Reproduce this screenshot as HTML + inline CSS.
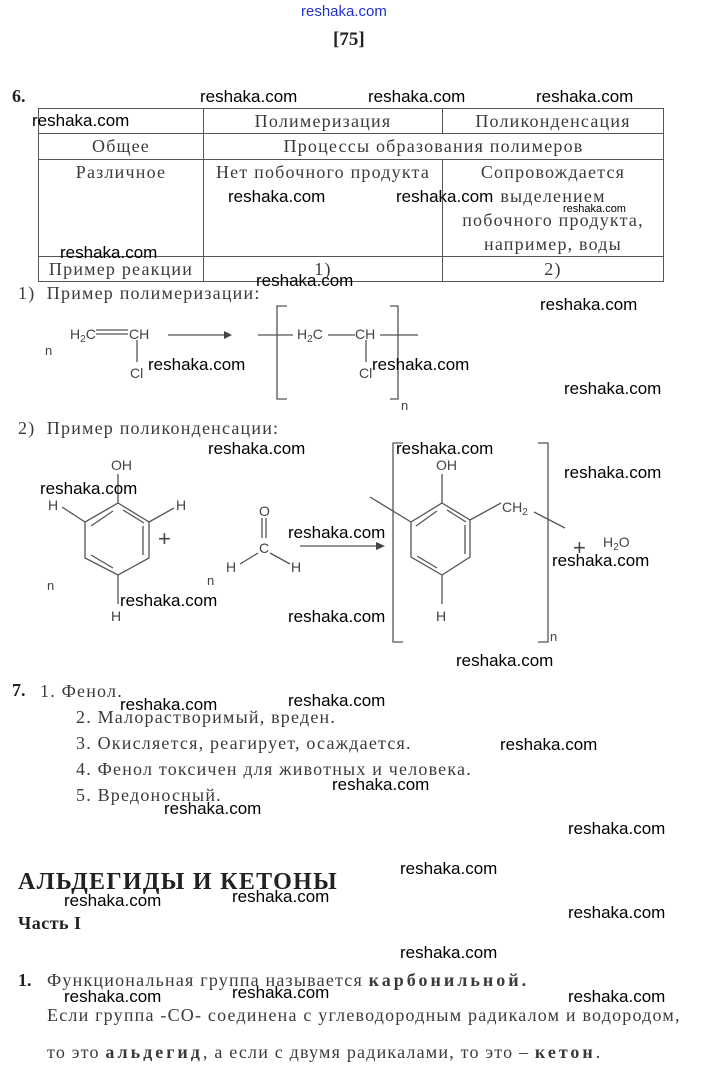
<!DOCTYPE html>
<html><head><meta charset="utf-8"><style>
body{margin:0;width:701px;height:1071px;background:#fff;position:relative;overflow:hidden;font-family:"Liberation Serif",serif;color:#3a3a3a}
.t{position:absolute;font-size:18px;letter-spacing:1.2px;white-space:nowrap;line-height:20px}
.w{position:absolute;font-family:"Liberation Sans",sans-serif;font-size:17px;letter-spacing:0;color:#000;white-space:nowrap;line-height:20px}
.b{font-weight:bold;color:#222}
table{position:absolute;left:38px;top:108px;border-collapse:collapse;font-size:18px;letter-spacing:1.2px}
td{border:1px solid #555;text-align:center;padding:0;line-height:24px;vertical-align:top;white-space:nowrap}
svg{position:absolute;left:0;top:0}
.sp{letter-spacing:3px;font-weight:bold}
</style></head><body>
<div class="w" style="left:301px;top:2px;font-size:15px;color:#2233cc">reshaka.com</div>
<div class="t b" style="left:333px;top:30px;font-size:19px;letter-spacing:0">[75]</div>
<div class="t b" style="left:12px;top:86px;letter-spacing:0">6.</div>
<table>
<tr style="height:23px"><td style="width:164px"></td><td style="width:238px">Полимеризация</td><td style="width:220px">Поликонденсация</td></tr>
<tr style="height:26px"><td>Общее</td><td colspan="2">Процессы образования полимеров</td></tr>
<tr style="height:97px"><td>Различное</td><td>Нет побочного продукта</td><td>Сопровождается<br>выделением<br>побочного продукта,<br>например, воды</td></tr>
<tr style="height:25px"><td>Пример реакции</td><td>1)</td><td>2)</td></tr>
</table>
<div class="t" style="left:18px;top:283px">1)&nbsp; Пример полимеризации:</div>
<div class="t" style="left:18px;top:418px">2)&nbsp; Пример поликонденсации:</div>
<svg width="701" height="1071" font-family="Liberation Sans,sans-serif" font-size="14" fill="#444">
<g stroke="#555" stroke-width="1.3" fill="none">
<line x1="96" y1="330" x2="128" y2="330"/><line x1="96" y1="334" x2="128" y2="334"/>
<line x1="137" y1="340" x2="137" y2="362"/>
<line x1="168" y1="335" x2="224" y2="335"/>
<line x1="258" y1="335" x2="293" y2="335"/>
<polyline points="287,306 277,306 277,399 287,399"/>
<line x1="328" y1="335" x2="355" y2="335"/><line x1="380" y1="335" x2="418" y2="335"/>
<line x1="366" y1="340" x2="366" y2="362"/>
<polyline points="390,306 398,306 398,399 390,399"/>
<polygon points="118,503 149,522 149,558 118,575 85,558 85,522"/>
<line x1="123" y1="510" x2="144" y2="523"/><line x1="143" y1="526" x2="143" y2="555"/><line x1="113" y1="568" x2="91" y2="555"/><line x1="91" y1="526" x2="113" y2="511"/>
<line x1="118" y1="503" x2="118" y2="474"/>
<line x1="85" y1="522" x2="62" y2="507"/><line x1="149" y1="522" x2="174" y2="508"/><line x1="118" y1="575" x2="118" y2="604"/>
<line x1="262" y1="518" x2="262" y2="538"/><line x1="266" y1="518" x2="266" y2="538"/>
<line x1="258" y1="553" x2="240" y2="564"/><line x1="270" y1="553" x2="290" y2="564"/>
<line x1="300" y1="546" x2="383" y2="546"/>
<polyline points="403,443 393,443 393,642 403,642"/>
<polyline points="538,443 548,443 548,642 538,642"/>
<polygon points="442,503 470,520 470,557 442,575 411,557 411,522"/>
<line x1="447" y1="510" x2="466" y2="522"/><line x1="465" y1="525" x2="465" y2="554"/><line x1="437" y1="568" x2="417" y2="556"/><line x1="416" y1="526" x2="437" y2="511"/>
<line x1="442" y1="503" x2="442" y2="474"/>
<line x1="411" y1="522" x2="370" y2="497"/><line x1="470" y1="520" x2="501" y2="503"/>
<line x1="534" y1="512" x2="565" y2="528"/><line x1="442" y1="575" x2="442" y2="604"/>
</g>
<polygon points="224,331 232,335 224,339" fill="#444"/>
<polygon points="376,542 385,546 376,550" fill="#444"/>
<text x="70" y="339">H<tspan font-size="10" dy="3">2</tspan><tspan dy="-3">C</tspan></text>
<text x="129" y="339">CH</text><text x="130" y="378">Cl</text><text x="45" y="355" font-size="13">n</text>
<text x="297" y="339">H<tspan font-size="10" dy="3">2</tspan><tspan dy="-3">C</tspan></text>
<text x="355" y="339">CH</text><text x="359" y="378">Cl</text><text x="401" y="410" font-size="13">n</text>
<text x="111" y="470">OH</text><text x="48" y="510">H</text><text x="176" y="510">H</text><text x="111" y="621">H</text><text x="47" y="590" font-size="13">n</text>
<text x="158" y="546" font-size="22">+</text>
<text x="259" y="516">O</text><text x="259" y="553">C</text><text x="226" y="572">H</text><text x="291" y="572">H</text><text x="207" y="585" font-size="13">n</text>
<text x="436" y="470">OH</text><text x="436" y="621">H</text>
<text x="502" y="512">CH<tspan font-size="10" dy="3">2</tspan></text>
<text x="550" y="641" font-size="13">n</text>
<text x="573" y="555" font-size="22">+</text>
<text x="603" y="547">H<tspan font-size="10" dy="3">2</tspan><tspan dy="-3">O</tspan></text>
</svg>
<div class="t b" style="left:12px;top:680px;letter-spacing:0">7.</div>
<div class="t" style="left:40px;top:681px">1. Фенол.</div>
<div class="t" style="left:76px;top:707px">2. Малорастворимый, вреден.</div>
<div class="t" style="left:76px;top:733px">3. Окисляется, реагирует, осаждается.</div>
<div class="t" style="left:76px;top:759px">4. Фенол токсичен для животных и человека.</div>
<div class="t" style="left:76px;top:785px">5. Вредоносный.</div>
<div class="t b" style="left:18px;top:868px;font-size:24px;line-height:28px;letter-spacing:1.3px">АЛЬДЕГИДЫ И КЕТОНЫ</div>
<div class="t b" style="left:18px;top:913px;font-size:18px;letter-spacing:0.5px">Часть I</div>
<div class="t b" style="left:18px;top:970px;font-size:18px;letter-spacing:0">1.</div>
<div class="t" style="left:47px;top:970px">Функциональная группа называется <span class="sp">карбонильной.</span></div>
<div class="t" style="left:47px;top:1005px">Если группа -CO- соединена с углеводородным радикалом и водородом,</div>
<div class="t" style="left:47px;top:1042px">то это <span class="sp">альдегид</span>, а если с двумя радикалами, то это – <span class="sp">кетон</span>.</div>
<div class="w" style="left:200px;top:87px">reshaka.com</div>
<div class="w" style="left:368px;top:87px">reshaka.com</div>
<div class="w" style="left:536px;top:87px">reshaka.com</div>
<div class="w" style="left:32px;top:111px">reshaka.com</div>
<div class="w" style="left:228px;top:187px">reshaka.com</div>
<div class="w" style="left:396px;top:187px">reshaka.com</div>
<div class="w" style="left:563px;top:199px;font-size:11px">reshaka.com</div>
<div class="w" style="left:60px;top:243px">reshaka.com</div>
<div class="w" style="left:256px;top:271px">reshaka.com</div>
<div class="w" style="left:540px;top:295px">reshaka.com</div>
<div class="w" style="left:148px;top:355px">reshaka.com</div>
<div class="w" style="left:372px;top:355px">reshaka.com</div>
<div class="w" style="left:564px;top:379px">reshaka.com</div>
<div class="w" style="left:208px;top:439px">reshaka.com</div>
<div class="w" style="left:396px;top:439px">reshaka.com</div>
<div class="w" style="left:40px;top:479px">reshaka.com</div>
<div class="w" style="left:564px;top:463px">reshaka.com</div>
<div class="w" style="left:288px;top:523px">reshaka.com</div>
<div class="w" style="left:552px;top:551px">reshaka.com</div>
<div class="w" style="left:120px;top:591px">reshaka.com</div>
<div class="w" style="left:288px;top:607px">reshaka.com</div>
<div class="w" style="left:456px;top:651px">reshaka.com</div>
<div class="w" style="left:120px;top:695px">reshaka.com</div>
<div class="w" style="left:288px;top:691px">reshaka.com</div>
<div class="w" style="left:500px;top:735px">reshaka.com</div>
<div class="w" style="left:332px;top:775px">reshaka.com</div>
<div class="w" style="left:164px;top:799px">reshaka.com</div>
<div class="w" style="left:568px;top:819px">reshaka.com</div>
<div class="w" style="left:400px;top:859px">reshaka.com</div>
<div class="w" style="left:64px;top:891px">reshaka.com</div>
<div class="w" style="left:232px;top:887px">reshaka.com</div>
<div class="w" style="left:568px;top:903px">reshaka.com</div>
<div class="w" style="left:400px;top:943px">reshaka.com</div>
<div class="w" style="left:64px;top:987px">reshaka.com</div>
<div class="w" style="left:232px;top:983px">reshaka.com</div>
<div class="w" style="left:568px;top:987px">reshaka.com</div>
</body></html>
